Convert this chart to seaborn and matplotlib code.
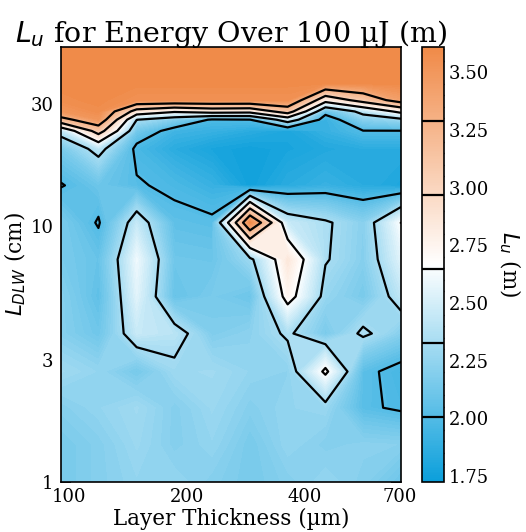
import numpy as np
import matplotlib
matplotlib.use("Agg")
import matplotlib as mpl
import matplotlib.pyplot as plt
import seaborn as sns
from matplotlib.ticker import NullLocator, MultipleLocator, FormatStrFormatter

# grid: layer thickness (um) along x, L_DLW (cm) along y
thickness_um = [95.5, 119, 149, 186, 232, 290, 362, 452, 564, 705]
dlw_cm = [1.0, 1.4, 1.95, 2.7, 3.8, 5.3, 7.4, 10.3, 14.4, 20, 23.5, 26, 28, 31, 36, 50]

# L_u (m), one row per dlw_cm value (bottom to top), one column per thickness
lu_m = [
    [2.15, 2.20, 2.25, 2.25, 2.20, 2.15, 2.20, 2.25, 2.20, 2.10],
    [2.15, 2.20, 2.28, 2.20, 2.25, 2.15, 2.25, 2.20, 2.22, 2.21],
    [2.20, 2.25, 2.30, 2.20, 2.28, 2.20, 2.25, 2.27, 2.03, 1.98],
    [2.30, 2.25, 2.14, 2.29, 2.30, 2.25, 2.23, 2.69, 2.04, 1.95],
    [2.20, 2.11, 2.45, 2.40, 2.18, 2.225, 2.353, 2.158, 2.36, 2.20],
    [2.20, 2.05, 2.55, 2.08, 2.15, 2.10, 2.74, 2.26, 2.15, 2.42],
    [2.15, 2.08, 2.60, 2.11, 2.10, 2.28, 2.85, 2.34, 2.20, 2.55],
    [2.15, 1.99, 2.44, 2.05, 2.03, 3.60, 2.45, 2.35, 2.21, 2.65],
    [1.995, 2.10, 2.02, 1.97, 1.90, 1.75, 1.85, 1.90, 1.85, 1.80],
    [2.15, 2.40, 1.96, 1.85, 1.78, 1.75, 1.78, 1.82, 1.85, 1.85],
    [2.417, 3.10, 2.124, 1.93, 1.90, 1.85, 1.80, 1.90, 2.00, 2.00],
    [3.20, 3.50, 2.33, 2.186, 1.98, 2.00, 2.48, 1.90, 2.20, 2.274],
    [3.50, 3.58, 2.84, 2.68, 2.775, 2.75, 3.11, 2.083, 2.403, 2.724],
    [3.58, 3.60, 3.55, 3.55, 3.55, 3.55, 3.55, 2.767, 3.087, 3.43],
    [3.60, 3.60, 3.60, 3.60, 3.60, 3.60, 3.60, 3.60, 3.60, 3.60],
    [3.61, 3.61, 3.61, 3.61, 3.61, 3.61, 3.61, 3.61, 3.61, 3.61],
]

contour_levels = [2.005, 2.326, 2.647, 2.967, 3.287]
cbar_ticks = [1.75, 2.00, 2.25, 2.50, 2.75, 3.00, 3.25, 3.50]
x_ticks = [100, 200, 400, 700]
y_ticks = [1, 3, 10, 30]
vmin, vmax = 1.724, 3.61

sns.set_theme(style="ticks", rc={
    "axes.edgecolor": "black",
    "axes.linewidth": 1.2,
    "text.color": "black",
    "axes.labelcolor": "black",
    "xtick.color": "black",
    "ytick.color": "black",
})
plt.rcParams["font.family"] = ["DejaVu Serif"]

cmap = sns.blend_palette(["#0b9fdb", "#ffffff", "#f08a48"], as_cmap=True)
norm = mpl.colors.Normalize(vmin=vmin, vmax=vmax)

fig = plt.figure(figsize=(5.26, 5.32), dpi=100)
ax = fig.add_axes([0.116, 0.094, 0.6464, 0.8177])
cax = fig.add_axes([0.802, 0.094, 0.042, 0.8177])

X, Y = np.meshgrid(thickness_um, dlw_cm)
Z = np.array(lu_m)

ax.contourf(X, Y, Z, levels=np.linspace(vmin, vmax, 90), cmap=cmap, norm=norm, extend="both")
cs = ax.contour(X, Y, Z, levels=contour_levels, colors="black", linewidths=1.6)

ax.set_xscale("log")
ax.set_yscale("log")
ax.set_xlim(thickness_um[0], thickness_um[-1])
ax.set_ylim(dlw_cm[0], dlw_cm[-1])
ax.set_xticks(x_ticks, labels=[str(t) for t in x_ticks])
ax.set_yticks(y_ticks, labels=[str(t) for t in y_ticks])
ax.xaxis.set_minor_locator(NullLocator())
ax.yaxis.set_minor_locator(NullLocator())
ax.tick_params(which="major", direction="in", length=7, width=1.2, labelsize=13,
               top=True, right=True)
ax.tick_params(axis="x", pad=4.5)
ax.tick_params(axis="y", pad=5.5)

ax.set_title("$L_u$ for Energy Over 100 µJ (m)", fontsize=20.5, pad=3.5)
ax.set_xlabel("Layer Thickness (µm)", fontsize=15.5, labelpad=1)
ax.set_ylabel("$L_{DLW}$ (cm)", fontsize=15.5, labelpad=2)

sm = mpl.cm.ScalarMappable(norm=norm, cmap=cmap)
cbar = fig.colorbar(sm, cax=cax)
cbar.add_lines(cs)
cbar.set_ticks(cbar_ticks)
cbar.ax.yaxis.set_major_formatter(FormatStrFormatter("%.2f"))
cbar.ax.yaxis.set_minor_locator(MultipleLocator(0.05))
cbar.ax.tick_params(which="major", direction="in", length=6.5, width=1.2, labelsize=13)
cbar.ax.tick_params(which="minor", direction="in", length=3.2, width=1.0)
cbar.outline.set_linewidth(1.2)
cbar.set_label("$L_u$ (m)", rotation=270, fontsize=15.5, labelpad=24)

fig.savefig("out.png", dpi=100)
